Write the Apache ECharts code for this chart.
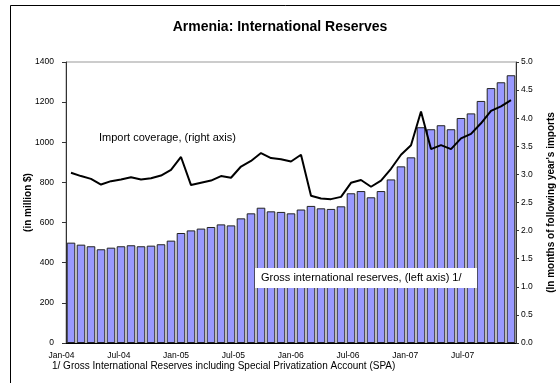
<!DOCTYPE html>
<html>
<head>
<meta charset="utf-8">
<script src="https://cdn.jsdelivr.net/npm/echarts@6/dist/echarts.min.js"></script>
<style>
  html, body { margin: 0; padding: 0; background: #fff; }
  #chart { width: 560px; height: 383px; }
</style>
</head>
<body>
<div id="chart"></div>
<script>
// Monthly categories, Jan-04 .. Sep-07
const months = [
  'Jan-04','Feb-04','Mar-04','Apr-04','May-04','Jun-04','Jul-04','Aug-04','Sep-04','Oct-04','Nov-04','Dec-04',
  'Jan-05','Feb-05','Mar-05','Apr-05','May-05','Jun-05','Jul-05','Aug-05','Sep-05','Oct-05','Nov-05','Dec-05',
  'Jan-06','Feb-06','Mar-06','Apr-06','May-06','Jun-06','Jul-06','Aug-06','Sep-06','Oct-06','Nov-06','Dec-06',
  'Jan-07','Feb-07','Mar-07','Apr-07','May-07','Jun-07','Jul-07','Aug-07','Sep-07'
];

// Month positions that carry a date label (every sixth month)
const labelledMonths = [0, 6, 12, 18, 24, 30, 36, 42];

// Gross international reserves, million US$ (left axis)
const grossReserves = [
  500, 490, 482, 467, 475, 482, 487, 482, 485, 492, 510, 548,
  561, 570, 578, 591, 586, 621, 646, 674, 656, 653, 646, 665,
  683, 671, 668, 681, 746, 757, 726, 757, 815, 880, 925, 1075,
  1065, 1085, 1065, 1121, 1144, 1206, 1270, 1299, 1334
];

// Import coverage, months of following year's imports (right axis)
const importCoverage = [
  3.03, 2.97, 2.92, 2.82, 2.88, 2.91, 2.95, 2.91, 2.93, 2.98, 3.08, 3.31,
  2.81, 2.85, 2.89, 2.97, 2.94, 3.14, 3.24, 3.38, 3.29, 3.27, 3.23, 3.35,
  2.62, 2.57, 2.56, 2.60, 2.85, 2.90, 2.78, 2.89, 3.10, 3.35, 3.52, 4.12,
  3.45, 3.52, 3.45, 3.64, 3.72, 3.91, 4.13, 4.21, 4.32
];

const FONT = '"Liberation Sans", Arial, sans-serif';

const chart = echarts.init(document.getElementById('chart'), null, { renderer: 'canvas' });

chart.setOption({
  animation: false,
  backgroundColor: '#fff',
  textStyle: { fontFamily: FONT },
  title: {
    text: 'Armenia: International Reserves',
    left: 'center',
    top: 15,
    textStyle: { fontFamily: FONT, fontSize: 14, fontWeight: 'bold', color: '#000' }
  },
  grid: [
    {
      left: 66, right: 44, top: 62, bottom: 40,
      outerBoundsMode: 'none',
      show: true, borderColor: '#999', borderWidth: 1, backgroundColor: 'transparent'
    },
    // label strip for the date axis (slightly compressed date scale)
    { left: 42.4, right: 40.1, top: 62, bottom: 40, outerBoundsMode: 'none', show: false }
  ],
  xAxis: [
    {
      type: 'category',
      gridIndex: 0,
      data: months,
      boundaryGap: true,
      axisLine: { lineStyle: { color: '#000', width: 1 } },
      axisTick: { interval: 2, length: 4, lineStyle: { color: '#000' } },
      axisLabel: { show: false },
      splitLine: { show: false }
    },
    {
      type: 'value',
      gridIndex: 1,
      min: -2, max: 48,
      axisLine: { show: false },
      axisTick: { show: false },
      splitLine: { show: false },
      axisLabel: {
        customValues: labelledMonths,
        fontSize: 8.5, color: '#000', margin: 8, fontFamily: FONT,
        formatter: v => months[Math.round(v)] || ''
      }
    }
  ],
  yAxis: [
    {
      type: 'value',
      gridIndex: 0,
      min: 0, max: 1400, interval: 200,
      name: '(in million $)',
      nameLocation: 'middle',
      nameRotate: 90,
      nameGap: 33,
      nameMoveOverlap: false,
      nameTextStyle: { fontFamily: FONT, fontSize: 10, fontWeight: 'bold', color: '#000' },
      axisLine: { show: true, lineStyle: { color: '#333' } },
      axisTick: { show: true, length: 4, lineStyle: { color: '#333' } },
      axisLabel: { fontSize: 8.5, color: '#000', margin: 12, fontFamily: FONT, formatter: v => String(v) },
      splitLine: { show: false }
    },
    {
      type: 'value',
      gridIndex: 0,
      min: 0, max: 5, interval: 0.5,
      name: "(In months of following year's imports",
      nameLocation: 'middle',
      nameRotate: 90,
      nameGap: 30,
      nameMoveOverlap: false,
      nameTextStyle: { fontFamily: FONT, fontSize: 10, fontWeight: 'bold', color: '#000' },
      axisLine: { show: true, lineStyle: { color: '#333' } },
      axisTick: { show: true, length: 3, lineStyle: { color: '#333' } },
      axisLabel: {
        fontSize: 8.5, color: '#000', margin: 5, fontFamily: FONT,
        formatter: v => v.toFixed(1)
      },
      splitLine: { show: false }
    },
    {
      type: 'value',
      gridIndex: 1,
      min: 0, max: 1,
      show: false
    }
  ],
  series: [
    {
      name: 'Gross international reserves',
      type: 'bar',
      xAxisIndex: 0,
      yAxisIndex: 0,
      data: grossReserves,
      barCategoryGap: '14%',
      itemStyle: { color: '#9999FF', borderColor: '#222', borderWidth: 1 },
      z: 2
    },
    {
      name: 'Import coverage',
      type: 'line',
      xAxisIndex: 0,
      yAxisIndex: 1,
      data: importCoverage,
      symbol: 'none',
      lineStyle: { color: '#000', width: 2 },
      z: 3
    }
  ],
  graphic: [
    {
      type: 'rect',
      silent: true,
      shape: { x: 10.5, y: 5.5, width: 600, height: 420 },
      style: { fill: 'none', stroke: '#000', lineWidth: 1 },
      z: 100
    },
    {
      type: 'text',
      left: 99, top: 132,
      style: { text: 'Import coverage, (right axis)', fontFamily: FONT, fontSize: 11, fill: '#000' },
      z: 100
    },
    {
      type: 'rect',
      shape: { x: 255, y: 268, width: 222, height: 20 },
      style: { fill: '#fff', stroke: 'none' },
      z: 100
    },
    {
      type: 'text',
      left: 261, top: 272,
      style: { text: 'Gross international reserves, (left axis) 1/', fontFamily: FONT, fontSize: 11, fill: '#000' },
      z: 101
    },
    {
      type: 'text',
      left: 52, top: 361,
      style: { text: '1/ Gross International Reserves including Special Privatization Account (SPA)', fontFamily: FONT, fontSize: 10, fill: '#000' },
      z: 100
    }
  ]
});
</script>
</body>
</html>
